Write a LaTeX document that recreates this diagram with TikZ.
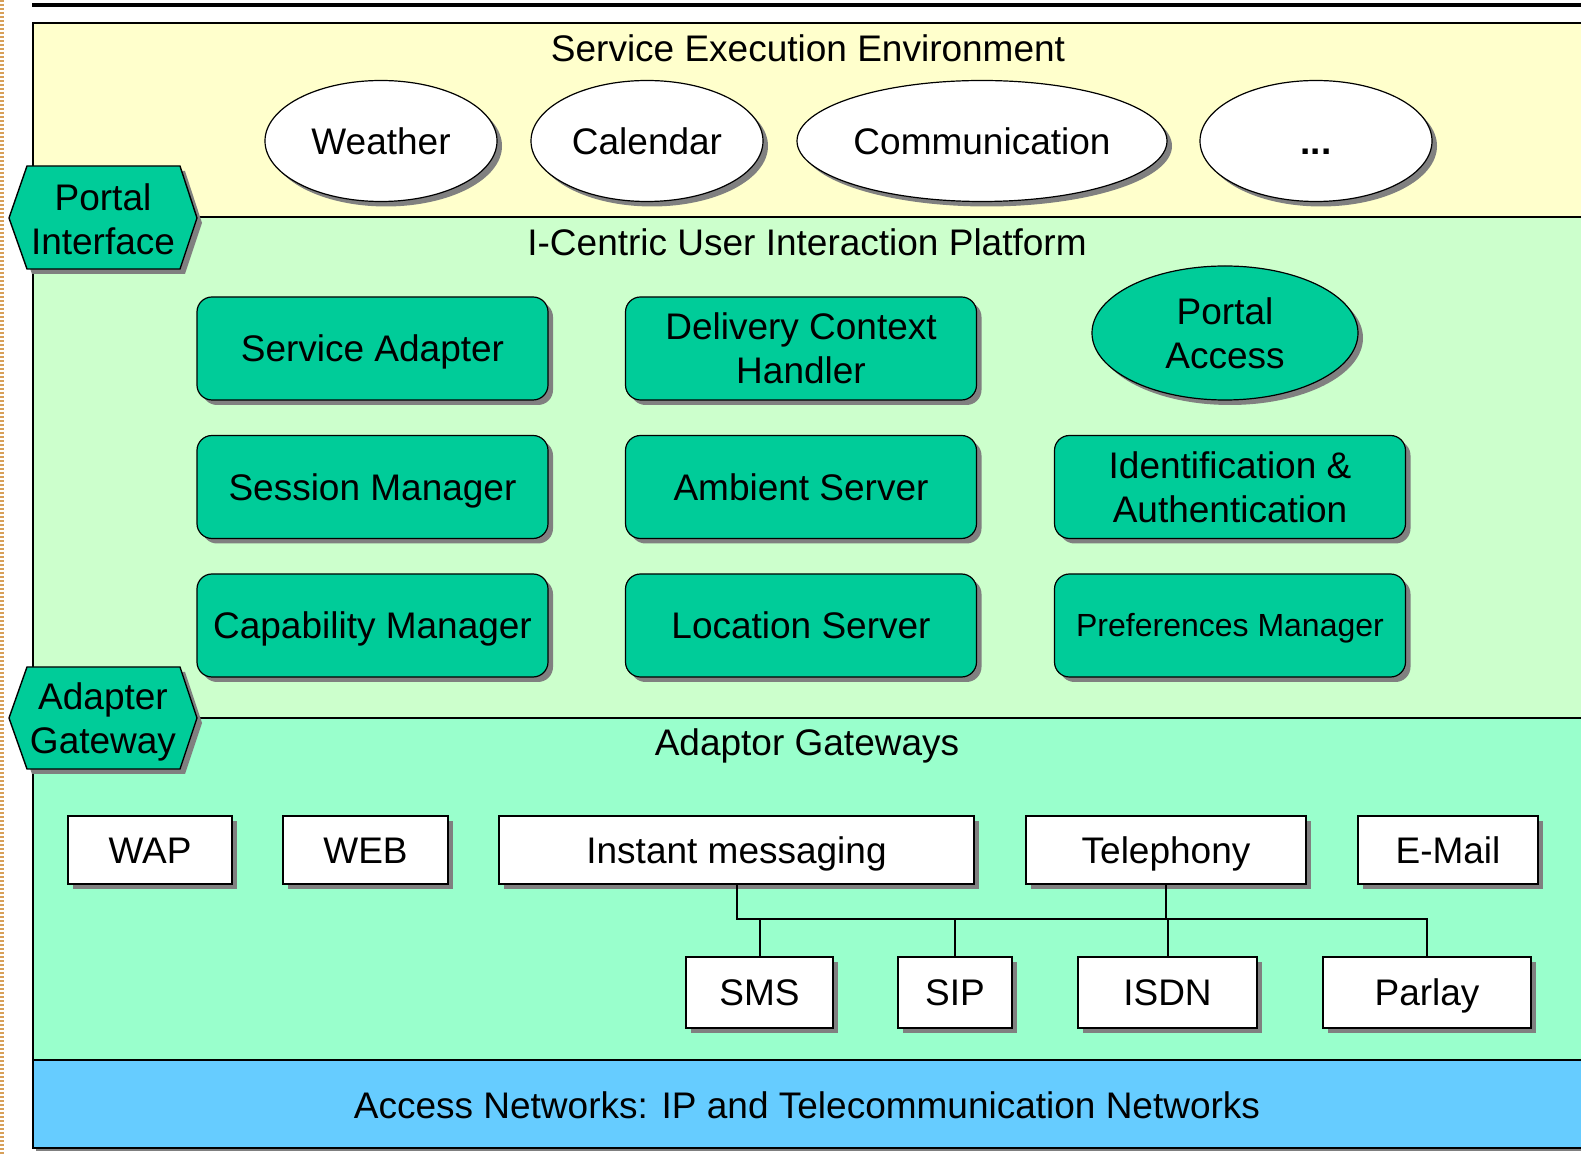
\documentclass[tikz,border=0pt]{standalone}
\usepackage{fontspec}
\setmainfont{Liberation Sans}
\usetikzlibrary{shapes.geometric,shadows}
\definecolor{yel}{HTML}{FFFFCC}
\definecolor{lgreen}{HTML}{CCFFCC}
\definecolor{mint}{HTML}{99FFCC}
\definecolor{netblue}{HTML}{66CCFF}
\definecolor{compgreen}{HTML}{00CC99}
\definecolor{shadowgray}{HTML}{808080}
\definecolor{stripe}{RGB}{215,160,90}
\begin{document}
\begin{tikzpicture}[x=0.5pt,y=-0.5pt,
  font=\fontsize{18.5pt}{22pt}\selectfont,
  sh/.style={drop shadow={shadow xshift=2.5pt,shadow yshift=-2.5pt,fill=shadowgray,opacity=1}},
  one/.style={text height=17.25pt,text depth=4pt},
  svc/.style={ellipse,draw,fill=white,sh,inner sep=0pt,line width=0.6pt,minimum height=60.5pt,one},
  comp/.style={rectangle,rounded corners=7.5pt,draw,fill=compgreen,sh,minimum width=175.5pt,minimum height=51.5pt,align=center,inner sep=0pt,line width=0.6pt},
  gw/.style={rectangle,draw,fill=white,sh,inner sep=0pt,line width=0.6pt,one},
  layer/.style={draw,line width=0.7pt},
  title/.style={inner sep=0pt},
  conn/.style={line width=1pt}]
\useasboundingbox (0,0) rectangle (1581,1154);
\clip (0,0) rectangle (1581,1154);
\fill[white] (0,0) rectangle (1581,1154);
% left stripe
\draw[stripe,line width=2pt,dash pattern=on 1pt off 1pt] (2,0) -- (2,1154);
% top rule
\draw[line width=2pt] (32,5) -- (1600,5);
% layers
\draw[layer,fill=yel] (33,23) rectangle (1600,217);
\draw[layer,fill=lgreen] (33,217) rectangle (1600,718);
\draw[layer,fill=mint] (33,718) rectangle (1600,1060);
\fill[shadowgray] (36,1063) rectangle (1600,1151);
\draw[layer,fill=netblue] (33,1060) rectangle (1600,1148);
% titles
\node[title] (see) at (808,48) {Service Execution Environment};
\node[title] (icp) at (807,242) {I-Centric User Interaction Platform};
\node[title] (agw) at (807,746) {Adaptor Gateways};
\node[title] (acc) at (807,1105) {Access Networks: IP and Telecommunication Networks};
% services
\node[svc,minimum width=116pt] (weather) at (381,141) {Weather};
\node[svc,minimum width=116pt] (calendar) at (647,141) {Calendar};
\node[svc,minimum width=185pt] (comm) at (982,141) {Communication};
\node[svc,minimum width=116pt] (more) at (1316,141) {\textbf{...}};
% hexagons
\fill[shadowgray] (14,223) -- (32,171) -- (185,171) -- (202,223) -- (185,274) -- (32,274) -- cycle;
\draw[fill=compgreen,line width=0.7pt] (9,218) -- (27,166) -- (180,166) -- (197,218) -- (180,269) -- (27,269) -- cycle;
\node[align=center,inner sep=0pt] (pint) at (103,219) {Portal\\Interface};
\fill[shadowgray] (14,723) -- (32,672) -- (185,672) -- (202,723) -- (185,774) -- (32,774) -- cycle;
\draw[fill=compgreen,line width=0.7pt] (9,718) -- (27,667) -- (180,667) -- (197,718) -- (180,769) -- (27,769) -- cycle;
\node[align=center,inner sep=0pt] (agate) at (103,722) {Adapter\\Gateway};
% components
\node[comp,one] (sadapt) at (372.5,348.5) {Service Adapter};
\node[comp] (dch) at (801,348.5) {Delivery Context\\Handler};
\node[ellipse,draw,fill=compgreen,sh,inner sep=0pt,line width=0.6pt,minimum width=133pt,minimum height=67pt,align=center] (pacc) at (1225,333) {Portal\\Access};
\node[comp,one] (sman) at (372.5,487) {Session Manager};
\node[comp,one] (amb) at (801,487) {Ambient Server};
\node[comp] (ida) at (1230,487) {Identification \&\\Authentication};
\node[comp,one] (cman) at (372.5,625.5) {Capability Manager};
\node[comp,one] (loc) at (801,625.5) {Location Server};
\node[comp,font=\fontsize{16pt}{19pt}\selectfont,text height=15.46pt,text depth=4pt] (pman) at (1230,625.5) {Preferences Manager};
% gateways
\node[gw,minimum width=82pt,minimum height=34pt] (wap) at (150,850) {WAP};
\node[gw,minimum width=82.5pt,minimum height=34pt] (web) at (365.5,850) {WEB};
\node[gw,minimum width=237.5pt,minimum height=34pt] (im) at (736.5,850) {Instant messaging};
\node[gw,minimum width=140pt,minimum height=34pt] (tel) at (1166,850) {Telephony};
\node[gw,minimum width=90pt,minimum height=34pt] (mail) at (1448,850) {E-Mail};
\node[gw,minimum width=73.5pt,minimum height=35.5pt] (sms) at (759.5,992.5) {SMS};
\node[gw,minimum width=57pt,minimum height=35.5pt] (sip) at (955,992.5) {SIP};
\node[gw,minimum width=89.5pt,minimum height=35.5pt] (isdn) at (1167.5,992.5) {ISDN};
\node[gw,minimum width=104pt,minimum height=35.5pt] (parlay) at (1427,992.5) {Parlay};
% connectors
\coordinate (bus) at (0,919);
\draw[conn] (im.south) -- (im.south |- bus) -- (parlay.north |- bus) -- (parlay.north);
\draw[conn] (tel.south) -- (tel.south |- bus);
\draw[conn] (sms.north) -- (sms.north |- bus);
\draw[conn] (sip.north) -- (sip.north |- bus);
\draw[conn] (isdn.north) -- (isdn.north |- bus);
\end{tikzpicture}
\end{document}
